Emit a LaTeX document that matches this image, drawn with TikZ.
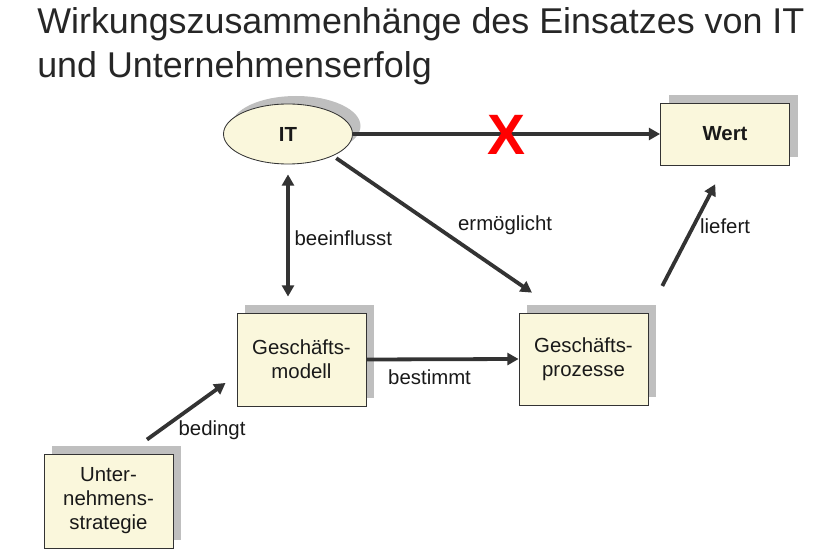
\documentclass[tikz,border=0pt]{standalone}
\usepackage{fontspec}
\setmainfont{Liberation Sans}
\usepackage{tikz}
\usetikzlibrary{arrows.meta,positioning,shapes.geometric,shadows,calc}
\definecolor{boxfill}{RGB}{250,247,220}
\definecolor{pfeilgrau}{RGB}{51,51,51}
\newcommand{\kastenschrift}{\fontsize{14.5}{17}\selectfont}
\newcommand{\titelschrift}{\fontsize{25.5}{31}\selectfont}
\tikzset{
  kasten/.style={draw=black!80, line width=0.6pt, fill=boxfill, align=center,
                 font=\kastenschrift, minimum width=3.225cm, inner sep=2pt,
                 drop shadow={shadow xshift=0.2cm, shadow yshift=0.2cm, fill=black!25, opacity=1}},
  itoval/.style={kasten, ellipse, minimum height=1.5cm, font=\kastenschrift\bfseries},
  pfeil/.style={->, line width=2.7pt, draw=pfeilgrau},
  lbl/.style={font=\kastenschrift, text=black!90},
}

\begin{document}
\begin{tikzpicture}[>={Triangle[length=8pt,width=8.5pt]}, text=black!90]
    \useasboundingbox (0,0) rectangle (20.375,-13.95);
    \node[anchor=base west, inner sep=0, font=\titelschrift, text=black!85] (titel1) at (0.925,-0.85) {Wirkungszusammenhänge des Einsatzes von IT};
    \node[anchor=base west, inner sep=0, font=\titelschrift, text=black!85] (titel2) at (0.925,-1.95) {und Unternehmenserfolg};
    \node[itoval] (it) at (7.2,-3.35) {IT};
    \node[kasten, minimum height=1.55cm, font=\kastenschrift\bfseries] (wert) at (18.125,-3.35) {Wert};
    \node[kasten, minimum height=2.325cm] (modell) at (7.5375,-8.9875) {Geschäfts-\\modell};
    \node[kasten, minimum height=2.3cm] (prozesse) at (14.5875,-8.975) {Geschäfts-\\prozesse};
    \node[kasten, minimum height=2.35cm] (strategie) at (2.7125,-12.525) {Unter-\\nehmens-\\strategie};
    \draw[pfeil] (it.east) -- node[yshift=-0.02cm, font=\fontsize{40.5}{40}\selectfont\bfseries, text=red] (kreuz) {X} (wert.west);
    \draw[pfeil, <->, shorten <=0.25cm, shorten >=0.4cm] (it.south) -- node[right, lbl] {beeinflusst} (it.south |- modell.north);
    \draw[pfeil, shorten <=0.1cm, shorten >=0.88cm] (it.-26) -- node[pos=0.52, above right, yshift=-0.1cm, lbl] {ermöglicht} ([xshift=-0.5625cm]prozesse.north);
    \draw[pfeil] (modell.east) -- node[pos=0.415, below, yshift=-0.1cm, lbl] {bestimmt} (prozesse.west);
    \draw[pfeil, shorten <=0.6cm, shorten >=0.34cm] ([xshift=0.475cm]strategie.north) -- node[below right, xshift=-0.25cm, lbl] {bedingt} ([yshift=-0.3875cm]modell.west);
    \draw[pfeil, shorten <=0.75cm, shorten >=0.53cm] (prozesse.north east) -- node[pos=0.59, right, lbl] {liefert} (wert.south);
\end{tikzpicture}
\end{document}
